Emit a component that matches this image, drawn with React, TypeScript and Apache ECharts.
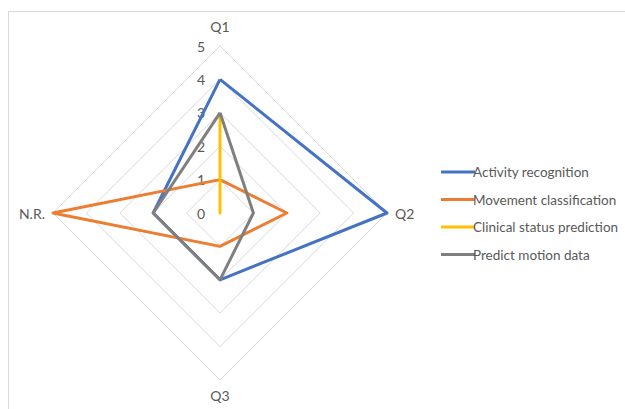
import React, { useEffect, useRef } from "react";
import * as echarts from "echarts";

const categories = ["Q1", "Q2", "Q3", "N.R."];
const seriesNames = [
  "Activity recognition",
  "Movement classification",
  "Clinical status prediction",
  "Predict motion data",
];
const activityRecognition = [4, 5, 2, 2];
const movementClassification = [1, 2, 1, 5];
const clinicalStatusPrediction = [3, 0, 0, 0];
const predictMotionData = [3, 1, 2, 2];
const colors = ["#4472C4", "#ED7D31", "#FFC000", "#7F7F7F"];
const axisMax = 5;

// ECharts places radar indicators counter-clockwise from the top.
const order = [0, 3, 2, 1];

export default function App() {
  const ref = useRef<HTMLDivElement>(null);
  useEffect(() => {
    if (!ref.current) return;
    const chart = echarts.init(ref.current, null, { renderer: "svg" });
    const allSeries = [
      activityRecognition,
      movementClassification,
      clinicalStatusPrediction,
      predictMotionData,
    ];
    const font = "Lato, 'Noto Sans', sans-serif";
    chart.setOption({
      animation: false,
      backgroundColor: "#ffffff",
      color: colors,
      graphic: [
        {
          type: "rect",
          shape: { x: 8.5, y: 11.5, width: 800, height: 600 },
          style: { fill: "none", stroke: "#d9d9d9", lineWidth: 1 },
          silent: true,
        },
      ],
      legend: {
        orient: "vertical",
        left: 436,
        top: 160,
        itemWidth: 34,
        itemHeight: 3,
        itemGap: 13.5,
        icon: "rect",
        textStyle: {
          color: "#595959",
          fontSize: 13.5,
          fontFamily: font,
          padding: [0, 0, 0, -7],
        },
        data: seriesNames,
      },
      radar: {
        center: [220, 213],
        radius: 167,
        startAngle: 90,
        shape: "polygon",
        splitNumber: 5,
        axisName: { color: "#595959", fontSize: 14, fontFamily: font },
        nameGap: 8,
        splitLine: { lineStyle: { color: "#d9d9d9", width: 1 } },
        splitArea: { show: false },
        axisLine: { show: false },
        axisTick: { show: false },
        axisLabel: { show: false },
        indicator: order.map((i, k) => ({
          name: categories[i],
          min: 0,
          max: axisMax,
          ...(k === 0
            ? {
                nameGap: 13,
                axisLabel: {
                  show: true,
                  color: "#595959",
                  fontSize: 14,
                  fontFamily: font,
                  margin: 15,
                },
              }
            : {}),
        })),
      },
      series: [
        {
          type: "radar",
          symbol: "none",
          data: allSeries.map((vals, s) => ({
            name: seriesNames[s],
            value: order.map((i) => vals[i]),
            lineStyle: { color: colors[s], width: 3 },
            itemStyle: { color: colors[s] },
          })),
        },
      ],
    });
    return () => chart.dispose();
  }, []);
  return (
    <div
      ref={ref}
      style={{ position: "fixed", left: 0, top: 0, width: 625, height: 409 }}
    />
  );
}
